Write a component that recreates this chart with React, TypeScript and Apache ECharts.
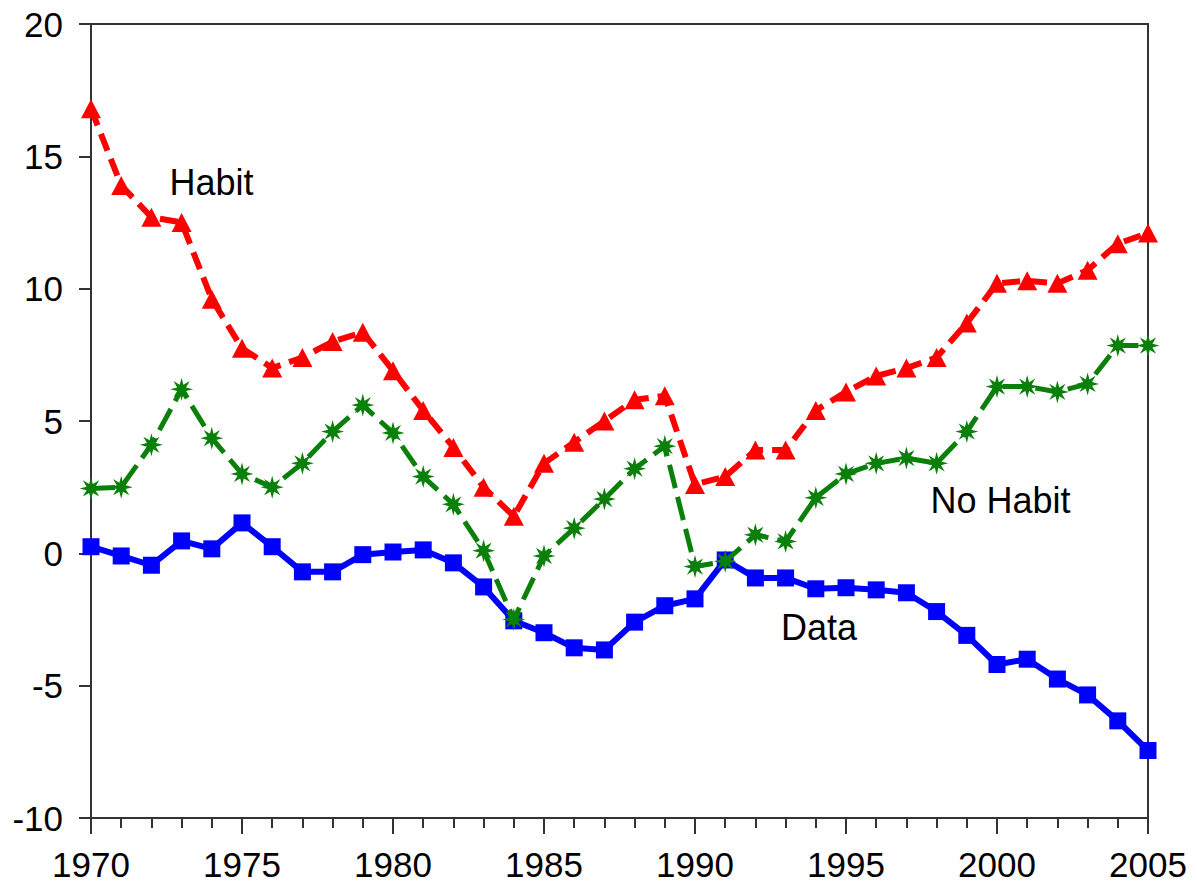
import React, { useEffect, useRef } from "react";
import * as echarts from "echarts";

const years = [
  1970, 1971, 1972, 1973, 1974, 1975, 1976, 1977, 1978, 1979,
  1980, 1981, 1982, 1983, 1984, 1985, 1986, 1987, 1988, 1989,
  1990, 1991, 1992, 1993, 1994, 1995, 1996, 1997, 1998, 1999,
  2000, 2001, 2002, 2003, 2004, 2005,
];

const habit = [
  16.8, 13.9, 12.7, 12.5, 9.6, 7.75, 7.0, 7.4, 8.0, 8.35,
  6.9, 5.4, 4.0, 2.5, 1.4, 3.4, 4.2, 5.0, 5.8, 5.95,
  2.6, 2.9, 3.9, 3.9, 5.4, 6.1, 6.7, 7.0, 7.4, 8.7,
  10.2, 10.3, 10.2, 10.7, 11.7, 12.1,
];

const noHabit = [
  2.45, 2.5, 4.1, 6.2, 4.35, 3.0, 2.5, 3.4, 4.6, 5.6,
  4.55, 2.9, 1.85, 0.1, -2.5, -0.1, 0.95, 2.05, 3.2, 4.05,
  -0.5, -0.3, 0.7, 0.45, 2.1, 3.0, 3.4, 3.6, 3.4, 4.6,
  6.3, 6.3, 6.1, 6.4, 7.85, 7.85,
];

const dataSeries = [
  0.25, -0.1, -0.45, 0.47, 0.17, 1.15, 0.25, -0.7, -0.7, -0.05,
  0.05, 0.13, -0.36, -1.27, -2.55, -3.0, -3.57, -3.65, -2.6, -1.98,
  -1.72, -0.25, -0.93, -0.93, -1.34, -1.3, -1.38, -1.49, -2.2, -3.1,
  -4.2, -4.0, -4.75, -5.35, -6.33, -7.45,
];

const seriesNames = ["Data", "No Habit", "Habit"];
const annotations = [
  { text: "Habit", year: 1972.6, value: 14.0 },
  { text: "No Habit", year: 1997.8, value: 2.0 },
  { text: "Data", year: 1992.85, value: -2.8 },
];

const FONT = "'Liberation Sans', Arial, sans-serif";

function asteriskPath(): string {
  const arms = 8;
  const outer = 10;
  const inner = 4.2;
  const pts: string[] = [];
  for (let i = 0; i < arms * 2; i++) {
    const r = i % 2 === 0 ? outer : inner;
    const a = (Math.PI * i) / arms - Math.PI / 2;
    pts.push(`${(r * Math.cos(a)).toFixed(2)} ${(r * Math.sin(a)).toFixed(2)}`);
  }
  return "path://M" + pts.join(" L") + " Z";
}

export default function App() {
  const ref = useRef<HTMLDivElement>(null);

  useEffect(() => {
    if (!ref.current) return;
    const chart = echarts.init(ref.current, null, { renderer: "svg" });

    const pair = (vals: number[]) => years.map((y, i) => [y, vals[i]]);

    chart.setOption({
      animation: false,
      backgroundColor: "#ffffff",
      grid: {
        left: 91,
        right: 49,
        top: 24,
        bottom: 66,
        show: true,
        borderColor: "#333333",
        borderWidth: 2,
        containLabel: false,
      },
      xAxis: {
        type: "value",
        min: 1970,
        max: 2005,
        interval: 5,
        axisLine: { show: true, onZero: false, lineStyle: { color: "#333333", width: 2 } },
        axisTick: { show: true, inside: false, length: 16, lineStyle: { color: "#333333", width: 2 } },
        minorTick: { show: true, splitNumber: 5, length: 10, lineStyle: { color: "#333333", width: 2 } },
        splitLine: { show: false },
        minorSplitLine: { show: false },
        axisLabel: {
          margin: 29,
          fontSize: 35,
          fontFamily: FONT,
          color: "#000000",
          formatter: (v: number) => String(v),
        },
      },
      yAxis: {
        type: "value",
        min: -10,
        max: 20,
        interval: 5,
        axisLine: { show: true, onZero: false, lineStyle: { color: "#333333", width: 2 } },
        axisTick: { show: true, inside: false, length: 12, lineStyle: { color: "#333333", width: 2 } },
        splitLine: { show: false },
        axisLabel: {
          margin: 28,
          fontSize: 35,
          fontFamily: FONT,
          color: "#000000",
        },
      },
      series: [
        {
          name: seriesNames[0],
          type: "line",
          data: pair(dataSeries),
          symbol: "rect",
          symbolSize: 17,
          itemStyle: { color: "#0000ff" },
          lineStyle: { color: "#0000ff", width: 6, type: "solid" },
          clip: false,
          z: 2,
        },
        {
          name: seriesNames[1],
          type: "line",
          data: pair(noHabit),
          symbol: asteriskPath(),
          symbolSize: 23,
          itemStyle: { color: "#0a800a" },
          lineStyle: { color: "#0a800a", width: 5, type: [24, 9] },
          clip: false,
          z: 3,
        },
        {
          name: seriesNames[2],
          type: "line",
          data: pair(habit),
          symbol: "triangle",
          symbolSize: [20, 19],
          itemStyle: { color: "#ff0000" },
          lineStyle: { color: "#ff0000", width: 6, type: [18, 9] },
          clip: false,
          z: 4,
        },
      ],
    });

    chart.setOption({
      graphic: annotations.map((a) => {
        const p = chart.convertToPixel({ gridIndex: 0 }, [a.year, a.value]);
        return {
          type: "text",
          x: p[0],
          y: p[1],
          style: {
            text: a.text,
            fontSize: 36,
            fontFamily: FONT,
            fill: "#000000",
            textAlign: "left",
            textVerticalAlign: "middle",
          },
          z: 10,
        };
      }),
    });

    return () => chart.dispose();
  }, []);

  return (
    <div
      ref={ref}
      style={{ position: "fixed", left: 0, top: 0, width: 1197, height: 884, background: "#fff" }}
    />
  );
}
